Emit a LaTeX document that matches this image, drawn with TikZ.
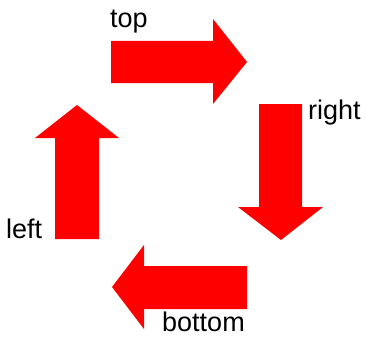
\documentclass[tikz,border=0pt]{standalone}
\usepackage{fontspec}
\setmainfont{Liberation Sans}
\usepackage{xcolor}
\definecolor{arrowred}{HTML}{FF0000}

\begin{document}
\begin{tikzpicture}[x=1pt,y=-1pt,
    blockarrow/.style={fill=arrowred},
    lbl/.style={anchor=base west,inner sep=0pt,font=\fontsize{27}{27}\selectfont}]
  \useasboundingbox (0,0) rectangle (366,337);
  % the four block arrows, clockwise
  \fill[blockarrow] (111,41) -- (213,41) -- (213,19) -- (247,62)
    -- (213,104) -- (213,83) -- (111,83) -- cycle;
  \fill[blockarrow] (259,104) -- (302,104) -- (302,207) -- (323,207)
    -- (281,240) -- (238,207) -- (259,207) -- cycle;
  \fill[blockarrow] (247,266) -- (144,266) -- (144,245) -- (112,287)
    -- (144,329) -- (144,309) -- (247,309) -- cycle;
  \fill[blockarrow] (55,239) -- (55,138) -- (35,138) -- (77,105)
    -- (119,138) -- (99,138) -- (99,239) -- cycle;
  % labels
  \node[lbl] (toplbl) at (110,28) {top};
  \node[lbl] (rightlbl) at (308,119) {right};
  \node[lbl] (bottomlbl) at (162,331) {bottom};
  \node[lbl] (leftlbl) at (6,238) {left};
\end{tikzpicture}
\end{document}
